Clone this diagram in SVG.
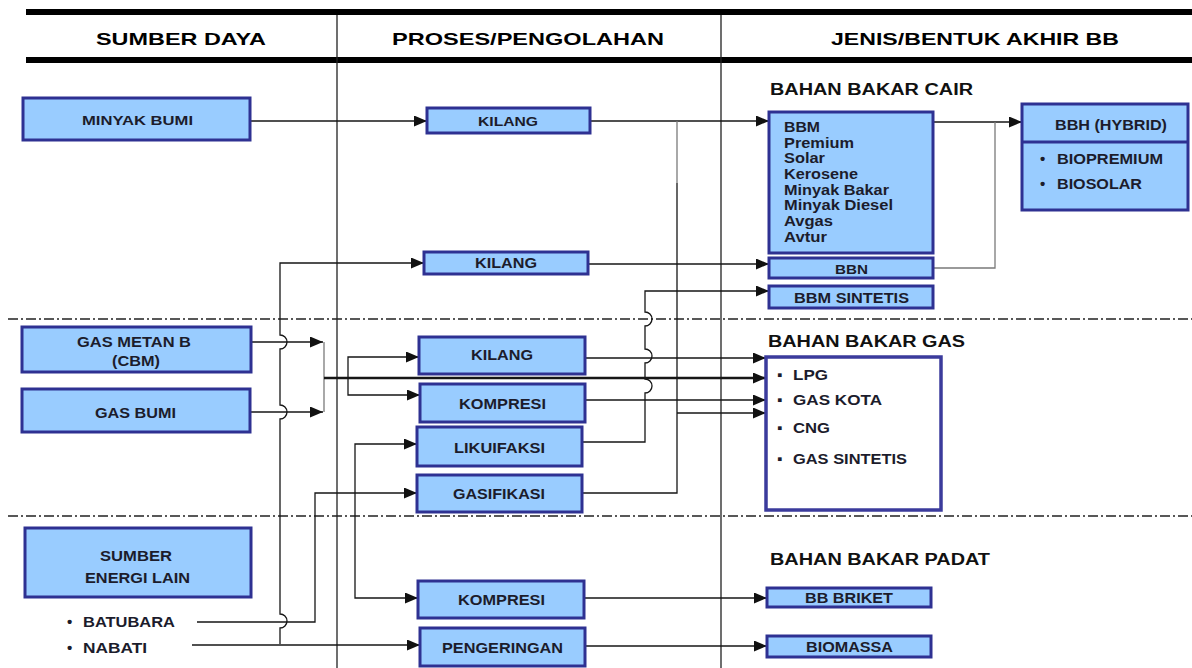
<svg xmlns="http://www.w3.org/2000/svg" width="1192" height="668" viewBox="0 0 1192 668">
<style>
.box{fill:#99ccff;stroke:#2e3192;stroke-width:3}
.wbox{fill:#ffffff;stroke:#3b3b9c;stroke-width:3.5}
text{font-family:"Liberation Sans",Arial,sans-serif;font-weight:bold;fill:#1c1c2c}
.h{font-size:17px;fill:#000}
.s{font-size:16px;fill:#111}
.b13{font-size:13px}
.b14{font-size:14px}
.b15{font-size:15px}
.c{fill:none;stroke:#161616;stroke-width:1.3}
.g{stroke:#7a7a7a}
.k{stroke-width:2.3}
.a{marker-end:url(#ar)}
.dash{fill:none;stroke:#222;stroke-width:1.3;stroke-dasharray:10 3 2 3}
.frame{fill:none;stroke:#222;stroke-width:1.3}
</style>
<defs>
<marker id="ar" markerWidth="13" markerHeight="11" refX="13" refY="5.5" orient="auto" markerUnits="userSpaceOnUse">
<path d="M0,0 L13,5.5 L0,11 z" fill="#111"/>
</marker>
</defs>
<rect width="1192" height="668" fill="#ffffff"/>

<g id="frame">
<rect x="26" y="9" width="1166" height="6" fill="#000"/>
<rect x="26" y="57" width="1166" height="6" fill="#000"/>
<path class="frame" d="M337,15 V668 M721,15 V668"/>
<path class="dash" d="M8,319 H1192 M8,516 H1192"/>
<text class="h" x="96" y="45" textLength="170" lengthAdjust="spacingAndGlyphs">SUMBER DAYA</text>
<text class="h" x="392" y="45" textLength="272" lengthAdjust="spacingAndGlyphs">PROSES/PENGOLAHAN</text>
<text class="h" x="831" y="45" textLength="288" lengthAdjust="spacingAndGlyphs">JENIS/BENTUK AKHIR BB</text>
<text class="s" x="770" y="95" textLength="203" lengthAdjust="spacingAndGlyphs">BAHAN BAKAR CAIR</text>
<text class="s" x="768" y="347" textLength="197" lengthAdjust="spacingAndGlyphs">BAHAN BAKAR GAS</text>
<text class="s" x="770" y="565" textLength="220" lengthAdjust="spacingAndGlyphs">BAHAN BAKAR PADAT</text>
</g>

<g id="connectors">
<path class="c a" d="M250,121 H427"/>
<path class="c a" d="M590,121 H769"/>
<path class="c" d="M582,493 H677 V183"/>
<path class="c g" d="M677,183 V121"/>
<path class="c a" d="M677,413 H766"/>
<path class="c a" d="M588,264 H769"/>
<path class="c a" d="M582,442 H645 V393 A7,7 0 0 0 645,379 V363 A7,7 0 0 0 645,349 V326 A7,7 0 0 0 645,312 V291 H769"/>
<path class="c a" d="M280,644 V628 A7,7 0 0 0 280,614 V419 A7,7 0 0 0 280,405 V349 A7,7 0 0 0 280,335 V263 H424"/>
<path class="c a" d="M251,342 H323"/>
<path class="c a" d="M250,412 H323"/>
<path class="c g" d="M324,342 V412"/>
<path class="c k a" d="M324,378 H766"/>
<path class="c a" d="M348,376 V357 H419"/>
<path class="c a" d="M348,376 V395 H420"/>
<path class="c a" d="M197,622 H315 V493 H417"/>
<path class="c a" d="M355,493 V444 H417"/>
<path class="c a" d="M355,493 V598 H418"/>
<path class="c a" d="M192,645 H420"/>
<path class="c a" d="M585,358 H766"/>
<path class="c a" d="M585,400 H766"/>
<path class="c a" d="M584,598 H767"/>
<path class="c a" d="M585,646 H767"/>
<path class="c a" d="M933,122 H1022"/>
<path class="c g" d="M933,268 H995 V122"/>
</g>

<g id="minyak-bumi">
<rect class="box" x="23" y="98" width="227" height="42"/>
<text class="b13" x="82" y="125" textLength="111" lengthAdjust="spacingAndGlyphs">MINYAK BUMI</text>
</g>
<g id="gas-metan">
<rect class="box" x="22" y="327" width="229" height="45"/>
<text class="b14" x="77" y="347" textLength="114" lengthAdjust="spacingAndGlyphs">GAS METAN B</text>
<text class="b14" x="112" y="366" textLength="48" lengthAdjust="spacingAndGlyphs">(CBM)</text>
</g>
<g id="gas-bumi">
<rect class="box" x="22" y="389" width="228" height="43"/>
<text class="b15" x="95" y="418" textLength="81" lengthAdjust="spacingAndGlyphs">GAS BUMI</text>
</g>
<g id="sumber-energi-lain">
<rect class="box" x="25" y="528" width="226" height="69"/>
<text class="b15" x="100" y="561" textLength="72" lengthAdjust="spacingAndGlyphs">SUMBER</text>
<text class="b15" x="85" y="583" textLength="105" lengthAdjust="spacingAndGlyphs">ENERGI LAIN</text>
</g>
<g id="batubara">
<text class="b15" x="67" y="627">•</text>
<text class="b15" x="83" y="627" textLength="92" lengthAdjust="spacingAndGlyphs">BATUBARA</text>
</g>
<g id="nabati">
<text class="b15" x="67" y="653">•</text>
<text class="b15" x="83" y="653" textLength="64" lengthAdjust="spacingAndGlyphs">NABATI</text>
</g>

<g id="kilang-1">
<rect class="box" x="427" y="108" width="163" height="25"/>
<text class="b13" x="478" y="126" textLength="60" lengthAdjust="spacingAndGlyphs">KILANG</text>
</g>
<g id="kilang-2">
<rect class="box" x="424" y="252" width="164" height="22"/>
<text class="b14" x="475" y="268" textLength="62" lengthAdjust="spacingAndGlyphs">KILANG</text>
</g>
<g id="kilang-3">
<rect class="box" x="419" y="337" width="166" height="37"/>
<text class="b15" x="471" y="360" textLength="62" lengthAdjust="spacingAndGlyphs">KILANG</text>
</g>
<g id="kompresi-1">
<rect class="box" x="420" y="384" width="165" height="38"/>
<text class="b15" x="459" y="409" textLength="87" lengthAdjust="spacingAndGlyphs">KOMPRESI</text>
</g>
<g id="likuifaksi">
<rect class="box" x="417" y="427" width="165" height="39"/>
<text class="b15" x="454" y="453" textLength="91" lengthAdjust="spacingAndGlyphs">LIKUIFAKSI</text>
</g>
<g id="gasifikasi">
<rect class="box" x="417" y="475" width="165" height="37"/>
<text class="b15" x="453" y="499" textLength="92" lengthAdjust="spacingAndGlyphs">GASIFIKASI</text>
</g>
<g id="kompresi-2">
<rect class="box" x="418" y="581" width="166" height="37"/>
<text class="b15" x="458" y="605" textLength="87" lengthAdjust="spacingAndGlyphs">KOMPRESI</text>
</g>
<g id="pengeringan">
<rect class="box" x="420" y="628" width="165" height="38"/>
<text class="b15" x="442" y="653" textLength="121" lengthAdjust="spacingAndGlyphs">PENGERINGAN</text>
</g>

<g id="bbm">
<rect class="box" x="769" y="112" width="164" height="141"/>
<text class="b14" x="784" y="132" textLength="36" lengthAdjust="spacingAndGlyphs">BBM</text>
<text class="b14" x="784" y="147.5" textLength="70" lengthAdjust="spacingAndGlyphs">Premium</text>
<text class="b14" x="784" y="163" textLength="41" lengthAdjust="spacingAndGlyphs">Solar</text>
<text class="b14" x="784" y="179" textLength="74" lengthAdjust="spacingAndGlyphs">Kerosene</text>
<text class="b14" x="784" y="194.5" textLength="105" lengthAdjust="spacingAndGlyphs">Minyak Bakar</text>
<text class="b14" x="784" y="210" textLength="109" lengthAdjust="spacingAndGlyphs">Minyak Diesel</text>
<text class="b14" x="784" y="226" textLength="49" lengthAdjust="spacingAndGlyphs">Avgas</text>
<text class="b14" x="784" y="241.5" textLength="43" lengthAdjust="spacingAndGlyphs">Avtur</text>
</g>
<g id="bbn">
<rect class="box" x="769" y="258" width="164" height="20"/>
<text class="b13" x="835" y="274" textLength="33" lengthAdjust="spacingAndGlyphs">BBN</text>
</g>
<g id="bbm-sintetis">
<rect class="box" x="769" y="286" width="164" height="22"/>
<text class="b14" x="794" y="303" textLength="115" lengthAdjust="spacingAndGlyphs">BBM SINTETIS</text>
</g>
<g id="bbh-hybrid">
<rect class="box" x="1022" y="104" width="166" height="106"/>
<path d="M1022,142 H1188" stroke="#2e3192" stroke-width="3"/>
<text class="b15" x="1055" y="130" textLength="112" lengthAdjust="spacingAndGlyphs">BBH (HYBRID)</text>
<text class="b15" x="1040" y="164">•</text>
<text class="b15" x="1057" y="164" textLength="106" lengthAdjust="spacingAndGlyphs">BIOPREMIUM</text>
<text class="b15" x="1040" y="189">•</text>
<text class="b15" x="1057" y="189" textLength="85" lengthAdjust="spacingAndGlyphs">BIOSOLAR</text>
</g>
<g id="bahan-bakar-gas">
<rect class="wbox" x="766" y="357" width="175" height="153"/>
<text class="b15" x="777" y="380">▪</text>
<text class="b15" x="793" y="380" textLength="35" lengthAdjust="spacingAndGlyphs">LPG</text>
<text class="b15" x="777" y="405">▪</text>
<text class="b15" x="793" y="405" textLength="89" lengthAdjust="spacingAndGlyphs">GAS KOTA</text>
<text class="b15" x="777" y="433">▪</text>
<text class="b15" x="793" y="433" textLength="37" lengthAdjust="spacingAndGlyphs">CNG</text>
<text class="b15" x="777" y="464">▪</text>
<text class="b15" x="793" y="464" textLength="114" lengthAdjust="spacingAndGlyphs">GAS SINTETIS</text>
</g>
<g id="bb-briket">
<rect class="box" x="767" y="588" width="164" height="19"/>
<text class="b14" x="805" y="603" textLength="88" lengthAdjust="spacingAndGlyphs">BB BRIKET</text>
</g>
<g id="biomassa">
<rect class="box" x="767" y="636" width="164" height="21"/>
<text class="b14" x="806" y="652" textLength="87" lengthAdjust="spacingAndGlyphs">BIOMASSA</text>
</g>
</svg>
